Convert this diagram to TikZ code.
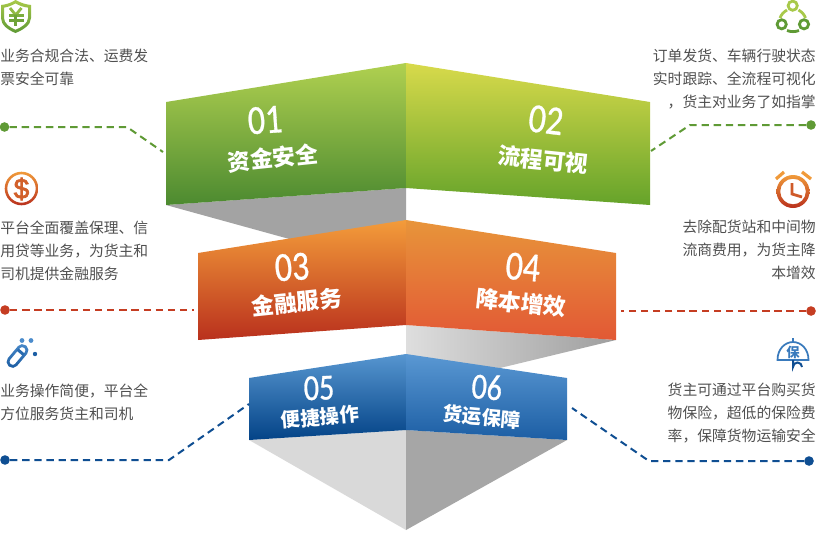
\documentclass[tikz,border=0pt]{standalone}
\usepackage{fontspec}
\setmainfont{Liberation Sans}
\newfontfamily\cjk{Noto Sans CJK SC}
\newfontfamily\digitfont[FakeStretch=0.82,FakeBold=0.7]{Carlito}
\newfontfamily\dollarfont[FakeBold=2.5]{Liberation Sans}
\definecolor{gA}{HTML}{5F9A35}
\definecolor{rA}{HTML}{C53D22}
\definecolor{bA}{HTML}{0F4E92}
\definecolor{bodygray}{HTML}{4F4F4F}
\definecolor{a1}{HTML}{B0D050}\definecolor{a2}{HTML}{4C8A30}
\definecolor{b1}{HTML}{D8DA4B}\definecolor{b2}{HTML}{65A32A}
\definecolor{c1}{HTML}{F39C3A}\definecolor{c2}{HTML}{B9301D}
\definecolor{d1}{HTML}{E8953A}\definecolor{d2}{HTML}{E25835}
\definecolor{e1}{HTML}{5796D0}\definecolor{e2}{HTML}{034387}
\definecolor{f1}{HTML}{5A98D3}\definecolor{f2}{HTML}{1C5EA4}
\definecolor{ia}{HTML}{A8C94A}
\definecolor{io}{HTML}{F09A3A}
\definecolor{ib}{HTML}{4C8CCC}
\tikzset{
  x=0.75pt,y=-0.75pt,
  bodytxt/.style={inner sep=0pt,text=bodygray,font=\cjk\fontsize{11.1}{17.25}\selectfont},
  bodyl/.style={bodytxt,anchor=west,align=left},
  bodyr/.style={bodytxt,anchor=east,align=right},
  ptitle/.style={inner sep=0pt,text=white,font=\cjk\bfseries\fontsize{17}{18}\selectfont},
  ptitles/.style={inner sep=0pt,text=white,font=\cjk\bfseries\fontsize{14.6}{18}\selectfont},
  pnum/.style={inner sep=0pt,text=white,font=\digitfont\fontsize{31}{32}\selectfont},
  pnums/.style={inner sep=0pt,text=white,font=\digitfont\fontsize{27.5}{28}\selectfont},
  dashline/.style={line width=1.5pt,dash pattern=on 5.5pt off 3.6pt},
  dotn/.style={circle,inner sep=0pt,minimum size=7.2pt,fill=#1},
}
\begin{document}
\begin{tikzpicture}
\useasboundingbox (0,0) rectangle (816,532);
% grey undersides
\fill[color=black!36] (166,205) -- (406,188) -- (406,225) -- (293,240) -- cycle;
\shade[left color=black!13,right color=black!38] (406,325) -- (616,340) -- (500,368) -- (406,360) -- cycle;
\fill[color=black!15] (249,440) -- (406,430) -- (406,530) -- cycle;
\fill[color=black!35] (567,440) -- (406,430) -- (406,530) -- cycle;
% panels
\shade[top color=a1,bottom color=a2] (166,102) -- (406,63) -- (406,188) -- (166,205) -- cycle;
\shade[top color=b1,bottom color=b2] (650,102) -- (406,63) -- (406,188) -- (650,205) -- cycle;
\shade[top color=c1,bottom color=c2] (198,253) -- (406,220) -- (406,325) -- (198,340) -- cycle;
\shade[top color=d1,bottom color=d2] (616,253) -- (406,220) -- (406,325) -- (616,340) -- cycle;
\shade[top color=e1,bottom color=e2] (249,378) -- (406,354) -- (406,430) -- (249,440) -- cycle;
\shade[top color=f1,bottom color=f2] (567,378) -- (406,354) -- (406,430) -- (567,440) -- cycle;
% panel labels
\node[pnum,rotate=4] (n1) at (265,120) {01};
\node[ptitle,rotate=6] (t1) at (273,158) {资金安全};
\node[pnum,rotate=-7] (n2) at (546,120) {02};
\node[ptitle,rotate=-6] (t2) at (543,160) {流程可视};
\node[pnum,rotate=4] (n3) at (292,267) {03};
\node[ptitle,rotate=6] (t3) at (297,302) {金融服务};
\node[pnum,rotate=-5] (n4) at (523,267) {04};
\node[ptitle,rotate=-6] (t4) at (521,303) {降本增效};
\node[pnums,rotate=2] (n5) at (319,388) {05};
\node[ptitles,rotate=5] (t5) at (320,417) {便捷操作};
\node[pnums,rotate=-5] (n6) at (487,387) {06};
\node[ptitles,rotate=-5] (t6) at (482,417) {货运保障};
% body texts
\node[bodyl] (p1) at (0,67) {业务合规合法、运费发\\票安全可靠};
\node[bodyr] (p2) at (816,79) {订单发货、车辆行驶状态\\实时跟踪、全流程可视化\\，货主对业务了如指掌};
\node[bodyl] (p3) at (0,251) {平台全面覆盖保理、信\\用贷等业务，为货主和\\司机提供金融服务};
\node[bodyr] (p4) at (816,250) {去除配货站和中间物\\流商费用，为货主降\\本增效};
\node[bodyl] (p5) at (0,402) {业务操作简便，平台全\\方位服务货主和司机};
\node[bodyr] (p6) at (816,413) {货主可通过平台购买货\\物保险，超低的保险费\\率，保障货物运输安全};
% connectors
\node[dotn=gA] (d1) at (4.5,127) {};
\coordinate (k1) at (127,127); \coordinate (e1p) at (163,152);
\draw[dashline,gA] (d1) -- (k1) -- (e1p);
\node[dotn=gA] (d2) at (811,125) {};
\coordinate (k2) at (690,125); \coordinate (e2p) at (651,151);
\draw[dashline,gA] (d2) -- (k2) -- (e2p);
\node[dotn=rA] (d3) at (5,310) {};
\coordinate (e3p) at (194,310);
\draw[dashline,rA] (d3) -- (e3p);
\node[dotn=rA] (d4) at (811,311) {};
\coordinate (e4p) at (621,311);
\draw[dashline,rA] (d4) -- (e4p);
\node[dotn=bA] (d5) at (5,460) {};
\coordinate (k5) at (169,460); \coordinate (e5p) at (249,404);
\draw[dashline,bA] (d5) -- (k5) -- (e5p);
\node[dotn=bA] (d6) at (809,461) {};
\coordinate (k6) at (649,461); \coordinate (e6p) at (572,408);
\draw[dashline,bA] (d6) -- (k6) -- (e6p);
% icon: shield
\shade[top color=ia,bottom color=gA,even odd rule]
  (15.5,0) .. controls (21,3) and (26,4.5) .. (31,5) -- (31,18) .. controls (31,25) and (23,30) .. (15.5,33) .. controls (8,30) and (1,25) .. (1,18) -- (1,5) .. controls (6,4.5) and (11,3) .. (15.5,0) --cycle
  (15.5,3.4) .. controls (11,6) and (7,7.2) .. (4,7.6) -- (4,18) .. controls (4,23.5) and (10,27.5) .. (15.5,29.8) .. controls (21,27.5) and (28,23.5) .. (28,18) -- (28,7.6) .. controls (24,7.2) and (20,6) .. (15.5,3.4) --cycle;
\draw[line width=2.1pt,color=ia!70!gA] (10,8) -- (15.7,15) -- (21.5,8);
\draw[line width=1.7pt,color=ia!40!gA] (9,15.5) -- (23.5,15.5);
\draw[line width=1.7pt,color=ia!20!gA] (9,20.5) -- (23.5,20.5);
\draw[line width=2.1pt,color=ia!20!gA] (15.7,15) -- (15.7,26);
% icon: network
\draw[line width=2.1pt,color=ia] (792.7,5.7) circle[radius=4.6];
\draw[line width=2.1pt,color=gA] (781.7,24.3) circle[radius=4.6];
\draw[line width=2.1pt,color=gA] (804,24.3) circle[radius=4.6];
\draw[line width=2.1pt,color=ia] (787,10) .. controls (783.5,12) and (781,15) .. (780,18);
\draw[line width=2.1pt,color=ia] (798.5,10) .. controls (802,12) and (804.5,15) .. (805.5,18);
\draw[line width=2.1pt,color=gA] (787,30.5) .. controls (791,32) and (795,32) .. (799,30.5);
% icon: dollar
\shade[top color=io,bottom color=c2,even odd rule] (21.5,188.5) circle[radius=16.8] (21.5,188.5) circle[radius=14.2];
\node[inner sep=0pt,text=io!45!c2,font=\dollarfont\fontsize{21}{21}\selectfont] (dollar) at (21.5,189) {\$};
% icon: clock
\shade[top color=io,bottom color=c2,even odd rule] (793,191.5) circle[radius=16.5] (793,191.5) circle[radius=12.8];
\draw[line width=2.4pt,color=io] (776,179) -- (784,172);
\draw[line width=2.4pt,color=io] (802,172) -- (811,179);
\draw[line width=2.1pt,color=io!40!c2] (792,183) -- (792,194) -- (802,197);
% icon: capsule
\begin{scope}[shift={(17.5,356)},rotate=50]
\shade[top color=ib,bottom color=f2!80!e2,even odd rule]
  [rounded corners=4.2pt] (-13.5,-6) rectangle (13.5,6)
  [rounded corners=2.2pt] (-10.5,-3.2) rectangle (10.5,3.2);
\fill[color=f2!70!ib] (3.5,-4) rectangle (6.5,4);
\end{scope}
\fill[color=ib] (22,340.5) circle[radius=2.4];
\fill[color=ib] (31,340.5) circle[radius=2.4];
\fill[color=f2] (35,354) circle[radius=2.2];
% icon: umbrella
\draw[line width=1.3pt,color=ib!60!f2] (777.5,360) .. controls (777.5,349) and (785,342) .. (793,342) .. controls (801,342) and (808.5,349) .. (808.5,360) -- cycle;
\draw[line width=1.3pt,color=ib!60!f2] (793,342) -- (793,338);
\node[inner sep=0pt,text=ib!60!f2,font=\cjk\bfseries\fontsize{10}{10}\selectfont] (bao) at (793,352) {保};
\draw[line width=1.5pt,color=bA] (793,360) -- (793,367) arc[start angle=180,end angle=360,radius=4.5];
\end{tikzpicture}
\end{document}
